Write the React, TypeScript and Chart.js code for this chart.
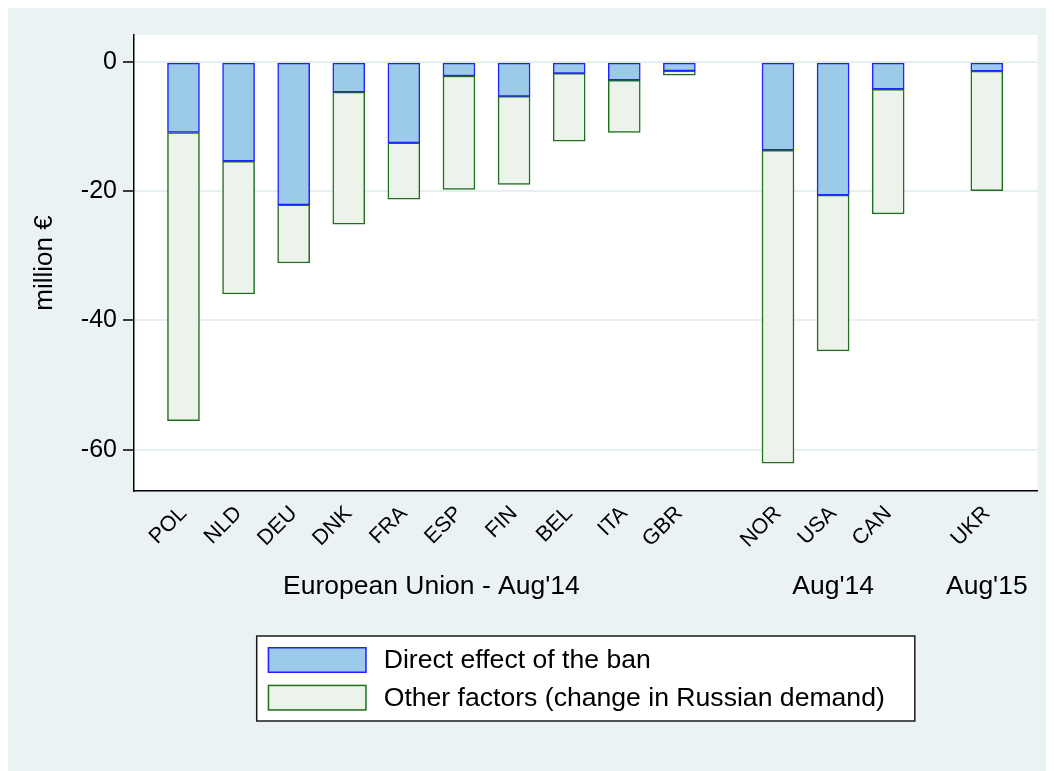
import React, { useEffect, useRef } from "react";
import { Chart, registerables } from "chart.js";

Chart.register(...registerables);

// ---- data ----
const countries = ["POL", "NLD", "DEU", "DNK", "FRA", "ESP", "FIN", "BEL", "ITA", "GBR", "NOR", "USA", "CAN", "UKR"];
// position of each bar on the category line (groups separated by gaps)
const xPositions = [1, 2, 3, 4, 5, 6, 7, 8, 9, 10, 11.79, 12.79, 13.79, 15.58];
const directEffect = [-10.9, -15.35, -22.1, -4.65, -12.5, -2.15, -5.3, -1.75, -2.8, -1.35, -13.65, -20.6, -4.2, -1.4];
const otherFactors = [-44.6, -20.55, -9.0, -20.45, -8.7, -17.55, -13.65, -10.5, -8.1, -0.65, -48.45, -24.1, -19.3, -18.5];
const groupLabels = ["European Union - Aug'14", "Aug'14", "Aug'15"];
const groupMembers = [[0, 1, 2, 3, 4, 5, 6, 7, 8, 9], [10, 11, 12], [13]];
const yTicks = [0, -20, -40, -60];
const seriesLabels = ["Direct effect of the ban", "Other factors (change in Russian demand)"];

const groupCenters = groupMembers.map(
  (m) => m.reduce((s, i) => s + xPositions[i], 0) / m.length
);

const FONT = '"Liberation Sans", Arial, Helvetica, sans-serif';

export default function App() {
  const ref = useRef<HTMLCanvasElement>(null);

  useEffect(() => {
    if (!ref.current) return;

    const bgPlugin = {
      id: "stataBg",
      beforeDraw(chart: any) {
        const { ctx, width, height, chartArea } = chart;
        ctx.save();
        ctx.fillStyle = "#eaf2f3";
        ctx.fillRect(0, 0, width, height);
        ctx.fillStyle = "#ffffff";
        ctx.fillRect(chartArea.left, chartArea.top, chartArea.right - chartArea.left, chartArea.bottom - chartArea.top);
        ctx.restore();
      },
    };

    const legendPlugin = {
      id: "boxLegend",
      afterDraw(chart: any) {
        const { ctx, chartArea } = chart;
        const x2 = chart.scales.x2;
        const ds = chart.data.datasets;
        ctx.save();
        ctx.font = `26.6px ${FONT}`;
        const textW = Math.max(...ds.map((d: any) => ctx.measureText(d.label).width));
        const padL = 11, sw = 99, sh = 26, gap = 17, padR = 30, rowH = 37.7, padT = 11, padB = 10.3;
        const boxW = padL + sw + gap + textW + padR;
        const boxH = padT + rowH * (ds.length - 1) + sh + padB;
        const left = (chartArea.left + chartArea.right) / 2 - boxW / 2;
        const top = x2.bottom + 15;
        ctx.fillStyle = "#ffffff";
        ctx.fillRect(left, top, boxW, boxH);
        ctx.strokeStyle = "#1a1a1a";
        ctx.lineWidth = 1.5;
        ctx.strokeRect(left, top, boxW, boxH);
        ds.forEach((d: any, i: number) => {
          const y = top + padT + i * rowH;
          ctx.fillStyle = d.backgroundColor;
          ctx.fillRect(left + padL, y, sw, sh);
          ctx.strokeStyle = d.borderColor;
          ctx.lineWidth = 1.5;
          ctx.strokeRect(left + padL + 0.75, y + 0.75, sw - 1.5, sh - 1.5);
          ctx.fillStyle = "#000";
          ctx.textBaseline = "middle";
          ctx.textAlign = "left";
          ctx.fillText(d.label, left + padL + sw + gap, y + sh / 2 + 1);
        });
        ctx.restore();
      },
    };

    const xMin = 0.102;
    const xMax = 16.5;

    const chart = new Chart(ref.current, {
      type: "bar",
      data: {
        datasets: [
          {
            label: seriesLabels[0],
            data: xPositions.map((x, i) => ({ x, y: directEffect[i] })),
            backgroundColor: "#9ccae9",
            borderColor: "#2222ff",
            borderWidth: 1.5,
            borderSkipped: false,
            barThickness: 32,
          },
          {
            label: seriesLabels[1],
            data: xPositions.map((x, i) => ({ x, y: otherFactors[i] })),
            backgroundColor: "#ebf3eb",
            borderColor: "#1f6f1f",
            borderWidth: 1.5,
            borderSkipped: false,
            barThickness: 32,
          },
        ],
      },
      options: {
        animation: false,
        responsive: false,
        maintainAspectRatio: false,
        layout: { padding: { left: 0, top: 27, right: 16.5, bottom: 150 } },
        plugins: {
          legend: { display: false },
          tooltip: { enabled: false },
        },
        scales: {
          x: {
            type: "linear",
            stacked: true,
            offset: false,
            min: xMin,
            max: xMax,
            weight: 0,
            afterBuildTicks: (s: any) => {
              s.ticks = xPositions.map((v) => ({ value: v }));
            },
            afterFit: (s: any) => {
              s.height = 60;
            },
            grid: { display: false, drawTicks: false, offset: false },
            border: { display: true, color: "#000", width: 1.5 },
            ticks: {
              autoSkip: false,
              minRotation: 45,
              maxRotation: 45,
              padding: 10,
              color: "#000",
              font: { family: FONT, size: 21.5 },
              callback: (_v: any, i: number) => countries[i],
            },
          },
          x2: {
            type: "linear",
            position: "bottom",
            offset: false,
            min: xMin,
            max: xMax,
            weight: 1,
            afterBuildTicks: (s: any) => {
              s.ticks = groupCenters.map((v) => ({ value: v }));
            },
            afterFit: (s: any) => {
              s.height = 70;
            },
            grid: { display: false, drawTicks: false, offset: false },
            border: { display: false },
            ticks: {
              autoSkip: false,
              minRotation: 0,
              maxRotation: 0,
              padding: 20,
              color: "#000",
              font: { family: FONT, size: 26.5 },
              callback: (_v: any, i: number) => groupLabels[i],
            },
          },
          y: {
            type: "linear",
            stacked: true,
            min: -66.4,
            max: 4.2,
            afterBuildTicks: (s: any) => {
              s.ticks = yTicks.map((v) => ({ value: v }));
            },
            afterFit: (s: any) => {
              s.width = 126;
            },
            grid: {
              color: "#e6eff1",
              lineWidth: 2,
              drawTicks: true,
              tickLength: 11,
              tickColor: "#000",
              tickWidth: 1.5,
            },
            border: { display: true, color: "#000", width: 1.5 },
            ticks: {
              padding: 6,
              color: "#000",
              font: { family: FONT, size: 25 },
              callback: (v: any) => String(v),
            },
            title: {
              display: true,
              text: "million €",
              color: "#000",
              font: { family: FONT, size: 26 },
              padding: { top: 21, bottom: 0 },
            },
          },
        },
      },
      plugins: [bgPlugin, legendPlugin],
    } as any);

    return () => chart.destroy();
  }, []);

  return (
    <div style={{ width: 1046, height: 763 }}>
      <canvas ref={ref} width={1046} height={763} style={{ display: "block" }} />
    </div>
  );
}
